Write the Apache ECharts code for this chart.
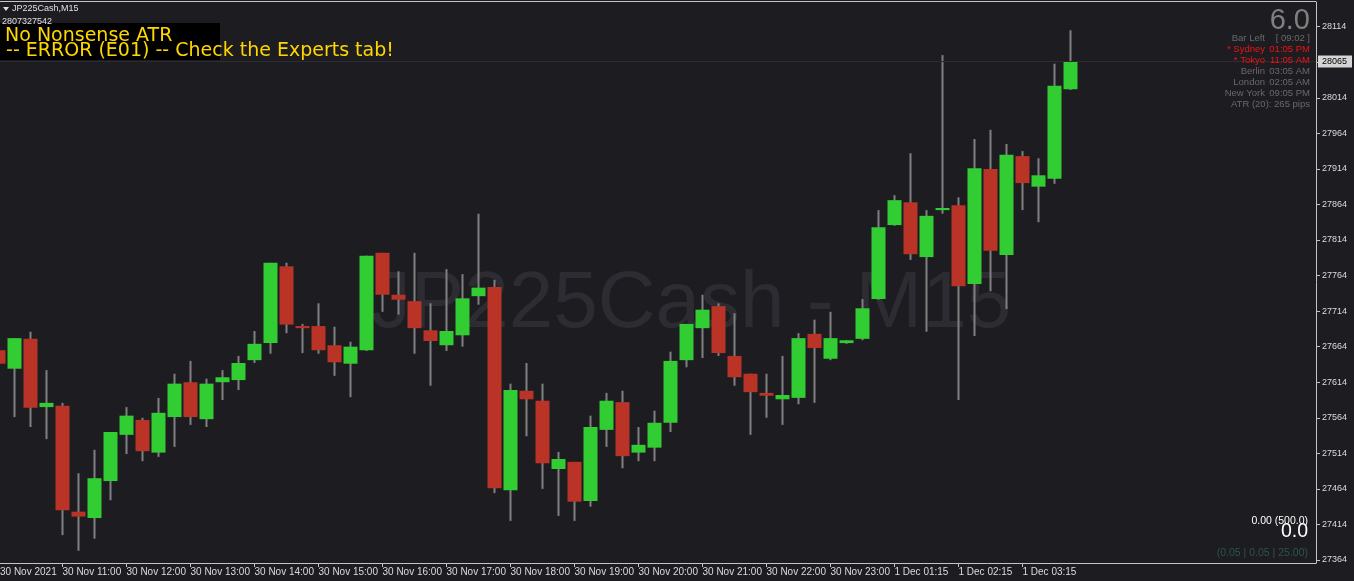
<!DOCTYPE html>
<html><head><meta charset="utf-8">
<script src="https://cdn.jsdelivr.net/npm/echarts@6/dist/echarts.min.js"></script>
<style>html,body{margin:0;padding:0;background:#1c1c21;}#c{width:1354px;height:581px;}</style>
</head><body><div id="c"></div>
<script>
const times = [
'30 Nov 10:00','30 Nov 10:15','30 Nov 10:30','30 Nov 10:45',
'30 Nov 11:00','30 Nov 11:15','30 Nov 11:30','30 Nov 11:45',
'30 Nov 12:00','30 Nov 12:15','30 Nov 12:30','30 Nov 12:45',
'30 Nov 13:00','30 Nov 13:15','30 Nov 13:30','30 Nov 13:45',
'30 Nov 14:00','30 Nov 14:15','30 Nov 14:30','30 Nov 14:45',
'30 Nov 15:00','30 Nov 15:15','30 Nov 15:30','30 Nov 15:45',
'30 Nov 16:00','30 Nov 16:15','30 Nov 16:30','30 Nov 16:45',
'30 Nov 17:00','30 Nov 17:15','30 Nov 17:30','30 Nov 17:45',
'30 Nov 18:00','30 Nov 18:15','30 Nov 18:30','30 Nov 18:45',
'30 Nov 19:00','30 Nov 19:15','30 Nov 19:30','30 Nov 19:45',
'30 Nov 20:00','30 Nov 20:15','30 Nov 20:30','30 Nov 20:45',
'30 Nov 21:00','30 Nov 21:15','30 Nov 21:30','30 Nov 21:45',
'30 Nov 22:00','30 Nov 22:15','30 Nov 22:30','30 Nov 22:45',
'30 Nov 23:00','30 Nov 23:15','30 Nov 23:30','30 Nov 23:45',
'1 Dec 01:15','1 Dec 01:30','1 Dec 01:45','1 Dec 02:00',
'1 Dec 02:15','1 Dec 02:30','1 Dec 02:45','1 Dec 03:00',
'1 Dec 03:15','1 Dec 03:30','1 Dec 03:45','1 Dec 04:00'];
const opens = [27659,27633,27675,27579,27581,27432,27423,27475,27540,27561,27515,27565,27614,27562,27614,27617,
27645,27669,27777,27693,27693,27666,27640,27659,27796,27737,27728,27687,27666,27680,27735,27748,
27462,27602,27588,27492,27502,27447,27547,27586,27515,27522,27557,27645,27690,27721,27651,27626,
27599,27590,27592,27682,27647,27669,27675,27731,27835,27867,27790,27856,27863,27752,27914,27793,
27932,27889,27900,28026];
const closes = [27640,27676,27578,27585,27434,27425,27479,27544,27567,27517,27571,27612,27565,27612,27621,27641,
27668,27782,27695,27690,27659,27642,27664,27792,27737,27730,27690,27672,27686,27732,27747,27465,
27603,27590,27500,27506,27446,27551,27588,27510,27526,27557,27644,27696,27716,27655,27621,27600,
27595,27596,27676,27662,27676,27673,27718,27832,27870,27794,27848,27859,27749,27915,27799,27934,
27894,27905,28031,28065];
const lows = [27634,27565,27551,27534,27399,27377,27394,27448,27513,27503,27509,27523,27554,27551,27589,27603,
27641,27654,27683,27655,27654,27623,27593,27658,27713,27709,27654,27609,27658,27664,27723,27458,
27419,27538,27464,27426,27419,27439,27523,27493,27503,27503,27544,27635,27648,27651,27609,27540,
27564,27554,27583,27585,27645,27668,27673,27730,27834,27786,27685,27851,27589,27679,27742,27717,
27856,27839,27893,28025];
const highs = [27665,27676,27685,27631,27585,27486,27519,27544,27579,27564,27592,27626,27644,27619,27631,27651,
27686,27782,27782,27696,27725,27692,27671,27792,27796,27770,27796,27725,27773,27766,27851,27758,
27612,27641,27612,27516,27502,27567,27599,27602,27551,27574,27657,27696,27737,27725,27711,27626,
27626,27651,27683,27702,27713,27673,27731,27856,27877,27936,27856,28074,27874,27956,27969,27949,
27939,27929,28062,28109];
const priceTicks = [27364,27414,27464,27514,27564,27614,27664,27714,27764,27814,27864,27914,27964,28014,28064,28114];
const timeTickIdx = [4,8,12,16,20,24,28,32,36,40,44,48,52,56,60,64];
const firstDateLabel = '30 Nov 2021';
const currentPrice = 28065;
const symbolTitle = 'JP225Cash,M15';
const watermark = 'JP225Cash - M15';
const panelLeft = ['Bar Left','* Sydney','* Tokyo','Berlin','London','New York'];
const panelRight = ['[ 09:02 ]','01:05 PM','11:05 AM','03:05 AM','02:05 AM','09:05 PM'];
const panelColors = ['#6a6a6a','#f01414','#f01414','#6a6a6a','#6a6a6a','#6a6a6a'];
const atrText = 'ATR (20): 265 pips';

const X_MIN = 0.09375, X_MAX = 82.34375;
const Y_MIN = 27359.78, Y_MAX = 28148.69;

const wickData = opens.map((o,k)=>[k, lows[k], highs[k], lows[k], highs[k]]);
const bodyData = opens.map((o,k)=>[k, o, closes[k], Math.min(o,closes[k]), Math.max(o,closes[k])]);

const FONT = '"Liberation Sans", Arial, sans-serif';
const chart = echarts.init(document.getElementById('c'), null, {renderer:'canvas'});
const graphics = [];
graphics.push({type:'text', z:0, style:{text:watermark, x:691, y:305, align:'center', verticalAlign:'middle', fill:'#2c2c32', font:'80px ' + FONT}});
graphics.push({type:'line', z:50, shape:{x1:0, y1:1.5, x2:1316, y2:1.5}, style:{stroke:'#c4c4c4', lineWidth:1}});
graphics.push({type:'polygon', z:100, shape:{points:[[3,7],[9,7],[6,11]]}, style:{fill:'#e0e0e0'}});
graphics.push({type:'text', z:100, style:{text:symbolTitle, x:12, y:9, verticalAlign:'middle', fill:'#e0e0e0', font:'9px ' + FONT}});
graphics.push({type:'text', z:100, style:{text:'2807327542', x:2, y:22, verticalAlign:'middle', fill:'#e0e0e0', font:'9px ' + FONT}});
graphics.push({type:'rect', z:99, shape:{x:0,y:23,width:220,height:37}, style:{fill:'#000000'}});
graphics.push({type:'text', z:100, style:{text:'No Nonsense ATR', x:5, y:46, verticalAlign:'bottom', fill:'#ffd700', font:'19px "DejaVu Sans", sans-serif'}});
graphics.push({type:'text', z:100, style:{text:' -- ERROR (E01) -- Check the Experts tab!', x:0, y:61, verticalAlign:'bottom', fill:'#ffd700', font:'19px "DejaVu Sans", sans-serif'}});
graphics.push({type:'text', z:100, style:{text:'6.0', x:1310, y:35, align:'right', verticalAlign:'bottom', fill:'#808080', font:'29px ' + FONT}});
panelLeft.forEach((t,i)=>{
  graphics.push({type:'text', z:100, style:{text:t, x:1265, y:38.5+11*i, align:'right', verticalAlign:'middle', fill:panelColors[i], font:'9.5px ' + FONT}});
  graphics.push({type:'text', z:100, style:{text:panelRight[i], x:1310, y:38.5+11*i, align:'right', verticalAlign:'middle', fill:panelColors[i], font:'9.5px ' + FONT}});
});
graphics.push({type:'text', z:100, style:{text:atrText, x:1310, y:104.5, align:'right', verticalAlign:'middle', fill:'#6a6a6a', font:'9.5px ' + FONT}});
graphics.push({type:'text', z:100, style:{text:'0.00 (500.0)', x:1308, y:521, align:'right', verticalAlign:'middle', fill:'#ffffff', font:'10.5px ' + FONT}});
graphics.push({type:'text', z:100, style:{text:'0.0', x:1308, y:542, align:'right', verticalAlign:'bottom', fill:'#ffffff', font:'19.5px ' + FONT}});
graphics.push({type:'text', z:100, style:{text:'(0.05 | 0.05 | 25.00)', x:1308, y:553, align:'right', verticalAlign:'middle', fill:'#2e5549', font:'10.5px ' + FONT}});

chart.setOption({
  animation:false,
  backgroundColor:'#1c1c21',
  grid:{left:0, top:2, width:1316, height:561, show:false, outerBoundsMode:'none', containLabel:false},
  xAxis:{type:'value', min:X_MIN, max:X_MAX, splitLine:{show:false},
    axisLine:{show:true, lineStyle:{color:'#c4c4c4', width:1}},
    axisTick:{show:true, length:4, customValues:timeTickIdx, lineStyle:{color:'#c4c4c4'}},
    axisLabel:{show:true, customValues:[X_MIN].concat(timeTickIdx), margin:4, align:'left', color:'#dcdcdc', fontSize:10, fontFamily:FONT,
      formatter:(v)=> v < 1 ? firstDateLabel : times[Math.round(v)]}
  },
  yAxis:{type:'value', position:'right', min:Y_MIN, max:Y_MAX, splitLine:{show:false},
    axisLine:{show:true, lineStyle:{color:'#c4c4c4', width:1}},
    axisTick:{show:true, length:4, customValues:priceTicks, lineStyle:{color:'#c4c4c4'}},
    axisLabel:{show:true, customValues:priceTicks, margin:6, color:'#dcdcdc', fontSize:9, fontFamily:FONT, formatter:(v)=>String(Math.round(v))}
  },
  graphic:{elements:graphics},
  series:[
    {type:'candlestick', name:'wick', data:wickData, encode:{x:0, y:[1,2,3,4]}, barWidth:2, clip:true, silent:true,
      itemStyle:{color:'#808080', color0:'#808080', borderColor:'#808080', borderColor0:'#808080', borderWidth:0}},
    {type:'candlestick', name:'body', data:bodyData, encode:{x:0, y:[1,2,3,4]}, barWidth:15, clip:true, silent:true,
      itemStyle:{color:'#32cd32', color0:'#b93326', borderColor:'#32cd32', borderColor0:'#b93326', borderWidth:0},
      markLine:{silent:true, symbol:'none', animation:false, data:[{yAxis:currentPrice}],
        lineStyle:{color:'#2b2b31', width:1, type:'solid'},
        label:{show:true, position:'end', distance:2, formatter:String(currentPrice), color:'#000000', backgroundColor:'#d4d4d4', padding:[2,5,1,4], fontSize:9, fontFamily:FONT}}
    }
  ]
});
</script></body></html>
